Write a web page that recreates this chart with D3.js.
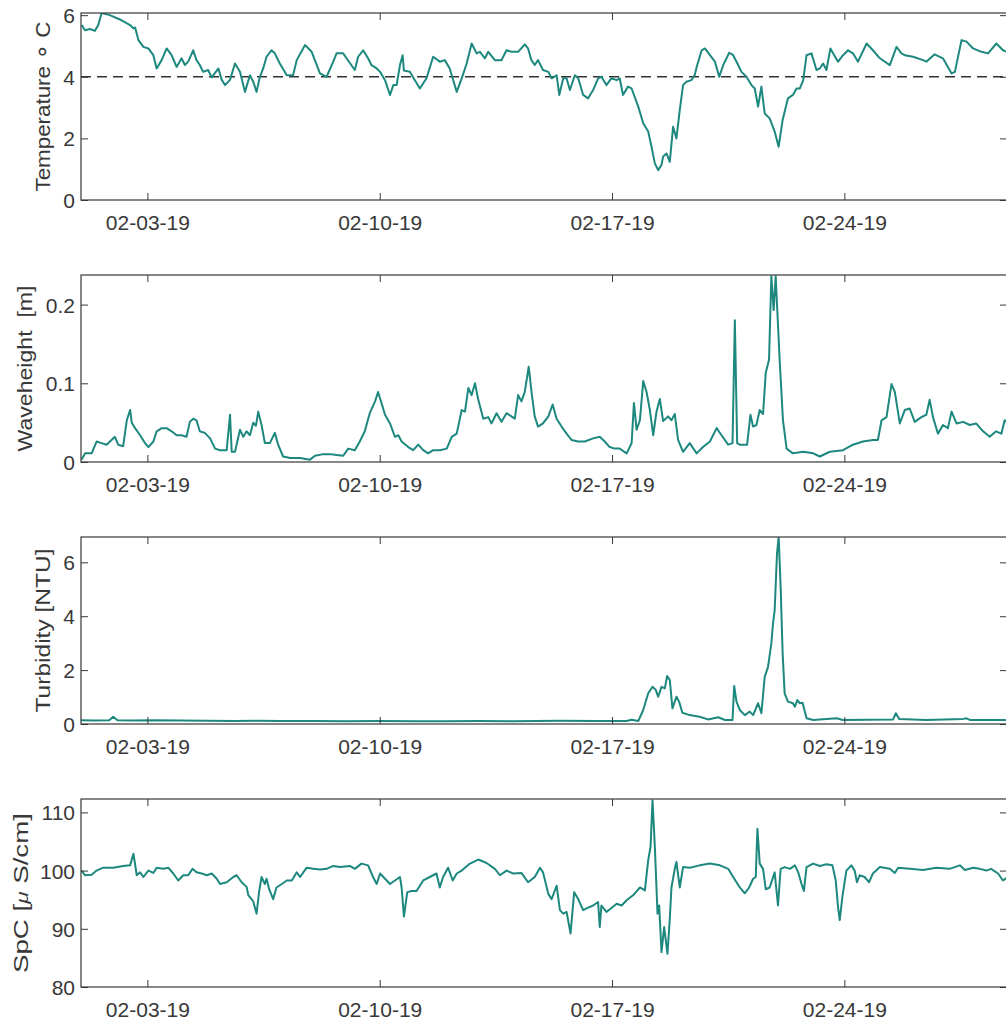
<!DOCTYPE html>
<html>
<head>
<meta charset="utf-8">
<script src="https://cdn.jsdelivr.net/npm/d3@7"></script>
<style>
  body { margin: 0; background: #fff; }
  text { font-family: "Liberation Sans", Arial, Helvetica, sans-serif; }
</style>
</head>
<body>
<svg id="chart" width="1006" height="1021"></svg>
<script>
// ---- time frame -------------------------------------------------------
const startDate = new Date(2019, 1, 1);      // first sample, Feb 1 2019
const endDay = 27.9;                          // record length in days
const dateTickLabels = ["02-03-19", "02-10-19", "02-17-19", "02-24-19"];

// ---- series: [days since start, value] --------------------------------
const temperature = [
  [0.02,5.68],[0.12,5.51],[0.27,5.55],[0.42,5.49],[0.52,5.68],[0.62,6.07],[0.87,6.00],[1.17,5.86],
  [1.48,5.68],[1.58,5.57],[1.63,5.60],[1.73,5.19],[1.88,4.97],[2.03,4.92],[2.18,4.70],[2.28,4.27],
  [2.43,4.54],[2.58,4.92],[2.73,4.70],[2.88,4.32],[3.03,4.60],[3.13,4.38],[3.23,4.49],[3.38,4.86],
  [3.48,4.54],[3.58,4.38],[3.68,4.16],[3.83,4.22],[3.94,3.98],[4.14,4.27],[4.24,3.90],[4.34,3.73],
  [4.49,3.90],[4.64,4.43],[4.79,4.16],[4.94,3.51],[5.09,4.05],[5.19,3.84],[5.29,3.51],[5.39,4.00],
  [5.49,4.27],[5.59,4.65],[5.74,4.86],[5.84,4.76],[5.99,4.43],[6.20,4.05],[6.39,4.05],[6.50,4.54],
  [6.75,5.03],[6.95,4.81],[7.20,4.11],[7.40,4.00],[7.60,4.49],[7.70,4.76],[7.90,4.76],[8.00,4.60],
  [8.25,4.22],[8.35,4.65],[8.50,4.86],[8.65,4.60],[8.75,4.38],[8.91,4.27],[9.01,4.16],[9.16,3.89],
  [9.31,3.41],[9.41,3.73],[9.51,3.73],[9.61,4.38],[9.69,4.70],[9.73,4.20],[9.91,4.16],[10.06,3.89],
  [10.21,3.62],[10.41,3.95],[10.61,4.65],[10.81,4.49],[10.96,4.54],[11.11,4.27],[11.32,3.51],[11.47,3.95],
  [11.62,4.43],[11.77,5.08],[11.92,4.76],[12.02,4.81],[12.17,4.60],[12.27,4.81],[12.47,4.54],[12.67,4.54],
  [12.82,4.86],[12.97,4.81],[13.17,4.81],[13.37,5.05],[13.47,4.92],[13.57,4.54],[13.67,4.38],[13.77,4.54],
  [13.92,4.22],[14.08,4.16],[14.18,3.95],[14.33,4.05],[14.41,3.41],[14.53,3.95],[14.63,3.95],[14.73,3.57],
  [14.88,4.05],[14.98,3.95],[15.13,3.41],[15.28,3.30],[15.43,3.57],[15.58,3.95],[15.68,4.00],[15.83,3.73],
  [15.98,3.95],[16.14,3.89],[16.23,3.95],[16.33,3.41],[16.48,3.68],[16.59,3.62],[16.79,3.03],[16.94,2.49],
  [17.09,2.22],[17.19,1.73],[17.29,1.19],[17.39,0.97],[17.49,1.14],[17.54,1.41],[17.64,1.51],[17.74,1.24],
  [17.84,2.38],[17.94,2.00],[18.04,2.92],[18.14,3.73],[18.24,3.84],[18.39,3.89],[18.49,4.05],[18.55,4.32],
  [18.70,4.86],[18.80,4.92],[18.95,4.70],[19.10,4.49],[19.23,4.00],[19.35,4.38],[19.53,4.78],[19.65,4.70],
  [19.80,4.38],[19.90,4.16],[20.05,4.00],[20.20,3.73],[20.30,3.62],[20.40,3.03],[20.50,3.68],[20.60,2.81],
  [20.75,2.65],[20.90,2.22],[21.02,1.73],[21.14,2.60],[21.30,3.30],[21.45,3.41],[21.56,3.62],[21.66,3.62],
  [21.76,3.89],[21.86,4.70],[22.01,4.76],[22.16,4.22],[22.26,4.27],[22.36,4.43],[22.46,4.22],[22.58,4.92],
  [22.66,4.76],[22.81,4.49],[22.96,4.70],[23.11,4.86],[23.26,4.76],[23.41,4.49],[23.67,5.08],[23.86,4.86],
  [24.07,4.60],[24.37,4.38],[24.57,4.97],[24.72,4.76],[24.82,4.70],[25.07,4.65],[25.37,4.54],[25.47,4.49],
  [25.72,4.73],[25.97,4.60],[26.23,4.11],[26.33,4.16],[26.53,5.19],[26.68,5.14],[26.88,4.92],[27.13,4.81],
  [27.33,4.76],[27.58,5.08],[27.78,4.86],[27.92,4.80]
];
const temperatureThreshold = 4;

const waveHeight = [
  [0.02,0.003],[0.12,0.011],[0.32,0.011],[0.47,0.026],[0.62,0.024],[0.77,0.022],[0.92,0.028],[1.02,0.032],
  [1.12,0.022],[1.27,0.020],[1.38,0.053],[1.48,0.066],[1.53,0.050],[1.63,0.043],[1.78,0.034],[1.93,0.024],
  [2.03,0.019],[2.18,0.026],[2.28,0.039],[2.43,0.043],[2.58,0.043],[2.73,0.039],[2.88,0.034],[3.03,0.034],
  [3.18,0.032],[3.28,0.051],[3.38,0.055],[3.48,0.053],[3.58,0.039],[3.73,0.037],[3.89,0.030],[4.04,0.017],
  [4.19,0.015],[4.39,0.015],[4.49,0.060],[4.54,0.013],[4.64,0.013],[4.79,0.041],[4.89,0.032],[4.99,0.039],
  [5.09,0.034],[5.19,0.050],[5.27,0.046],[5.34,0.064],[5.44,0.047],[5.54,0.024],[5.69,0.024],[5.84,0.037],
  [5.94,0.022],[6.09,0.007],[6.30,0.005],[6.60,0.005],[6.90,0.003],[7.05,0.008],[7.30,0.010],[7.50,0.010],
  [7.70,0.009],[7.90,0.008],[8.05,0.017],[8.25,0.015],[8.40,0.026],[8.55,0.039],[8.70,0.062],[8.86,0.077],
  [8.95,0.089],[9.06,0.074],[9.16,0.060],[9.31,0.049],[9.46,0.032],[9.56,0.034],[9.66,0.026],[9.86,0.019],
  [10.01,0.015],[10.16,0.022],[10.31,0.015],[10.46,0.011],[10.61,0.015],[10.81,0.015],[11.02,0.017],[11.17,0.032],
  [11.32,0.036],[11.47,0.066],[11.57,0.064],[11.67,0.094],[11.77,0.085],[11.87,0.100],[11.97,0.079],[12.12,0.055],
  [12.27,0.057],[12.37,0.049],[12.52,0.062],[12.67,0.051],[12.82,0.062],[12.97,0.058],[13.07,0.055],[13.17,0.085],
  [13.27,0.077],[13.37,0.089],[13.49,0.121],[13.58,0.087],[13.67,0.058],[13.77,0.045],[13.92,0.049],[14.08,0.058],
  [14.21,0.073],[14.33,0.055],[14.48,0.045],[14.63,0.036],[14.78,0.028],[14.98,0.026],[15.18,0.026],[15.43,0.030],
  [15.63,0.032],[15.78,0.026],[15.93,0.019],[16.08,0.017],[16.23,0.017],[16.44,0.011],[16.59,0.024],[16.66,0.075],
  [16.74,0.041],[16.84,0.053],[16.94,0.103],[17.04,0.089],[17.14,0.066],[17.24,0.034],[17.34,0.064],[17.44,0.080],
  [17.54,0.052],[17.69,0.058],[17.79,0.053],[17.89,0.061],[17.99,0.028],[18.14,0.013],[18.34,0.024],[18.55,0.011],
  [18.74,0.019],[18.95,0.026],[19.15,0.043],[19.30,0.034],[19.50,0.022],[19.63,0.024],[19.70,0.180],[19.77,0.024],
  [19.85,0.022],[20.07,0.022],[20.17,0.060],[20.25,0.045],[20.35,0.047],[20.45,0.066],[20.55,0.061],[20.63,0.113],
  [20.73,0.130],[20.80,0.236],[20.87,0.193],[20.93,0.236],[21.05,0.130],[21.15,0.053],[21.26,0.017],[21.45,0.011],
  [21.76,0.013],[22.06,0.011],[22.26,0.007],[22.56,0.013],[22.96,0.015],[23.26,0.022],[23.56,0.026],[23.86,0.028],
  [24.01,0.028],[24.12,0.053],[24.27,0.057],[24.42,0.099],[24.52,0.089],[24.67,0.049],[24.82,0.066],[24.97,0.068],
  [25.12,0.051],[25.32,0.057],[25.47,0.060],[25.57,0.079],[25.67,0.057],[25.82,0.036],[25.97,0.047],[26.12,0.043],
  [26.23,0.064],[26.38,0.049],[26.58,0.051],[26.78,0.047],[26.97,0.049],[27.18,0.039],[27.38,0.032],[27.57,0.039],
  [27.73,0.036],[27.83,0.053],[27.92,0.050]
];

const turbidity = [
  [0.00,0.14],[0.40,0.13],[0.85,0.14],[0.97,0.27],[1.10,0.14],[1.60,0.13],[2.20,0.14],[3.00,0.13],
  [3.80,0.12],[4.60,0.11],[5.30,0.12],[6.00,0.11],[7.00,0.11],[8.00,0.10],[9.00,0.11],[10.00,0.10],
  [11.00,0.10],[12.00,0.11],[13.00,0.10],[14.43,0.12],[15.50,0.11],[16.44,0.11],[16.59,0.16],[16.79,0.11],
  [16.94,0.52],[17.09,1.14],[17.22,1.38],[17.32,1.26],[17.39,1.01],[17.49,1.38],[17.59,1.32],[17.66,1.78],
  [17.74,1.63],[17.82,0.58],[17.94,1.01],[18.02,0.83],[18.12,0.42],[18.34,0.33],[18.64,0.27],[18.89,0.17],
  [19.20,0.25],[19.40,0.15],[19.63,0.15],[19.68,1.41],[19.75,0.83],[19.85,0.52],[20.00,0.33],[20.15,0.46],
  [20.25,0.33],[20.40,0.77],[20.50,0.40],[20.60,1.75],[20.70,2.12],[20.80,2.99],[20.85,3.73],[20.90,4.22],
  [20.97,6.32],[21.02,6.94],[21.08,5.09],[21.14,2.62],[21.20,1.14],[21.30,0.83],[21.45,0.77],[21.51,0.64],
  [21.58,0.89],[21.66,0.77],[21.74,0.79],[21.86,0.21],[22.06,0.15],[22.76,0.21],[22.96,0.15],[24.47,0.17],
  [24.55,0.40],[24.65,0.19],[25.47,0.15],[26.58,0.19],[26.68,0.21],[26.78,0.15],[27.92,0.15]
];

const conductivity = [
  [0.02,100.0],[0.12,99.2],[0.32,99.3],[0.47,100.0],[0.67,100.5],[0.97,100.5],[1.27,100.8],[1.48,100.9],
  [1.58,102.9],[1.68,99.2],[1.78,99.7],[1.88,98.9],[2.03,100.0],[2.18,99.6],[2.28,100.5],[2.48,100.3],
  [2.63,100.5],[2.78,99.5],[2.93,98.3],[3.08,99.2],[3.23,99.2],[3.36,100.3],[3.48,99.7],[3.64,99.5],
  [3.79,99.2],[3.94,99.5],[4.09,98.6],[4.19,97.7],[4.39,98.0],[4.59,98.9],[4.69,99.2],[4.84,98.0],
  [4.99,97.2],[5.04,95.8],[5.19,94.7],[5.29,92.6],[5.37,96.5],[5.44,98.9],[5.54,97.7],[5.59,98.6],
  [5.67,96.8],[5.79,95.1],[5.89,97.1],[6.05,97.7],[6.20,98.3],[6.35,98.3],[6.50,99.7],[6.60,98.9],
  [6.80,100.5],[7.00,100.3],[7.20,100.2],[7.40,100.3],[7.60,100.8],[7.80,100.6],[8.10,100.8],[8.25,100.3],
  [8.45,101.2],[8.65,100.9],[8.80,98.9],[8.91,97.7],[9.01,99.5],[9.16,98.6],[9.31,97.7],[9.46,98.3],
  [9.61,98.9],[9.66,97.1],[9.73,92.1],[9.83,96.3],[9.96,96.5],[10.11,96.5],[10.31,98.3],[10.51,98.9],
  [10.71,99.5],[10.81,97.1],[10.91,98.9],[11.06,100.5],[11.20,98.3],[11.32,99.5],[11.47,100.0],[11.72,101.2],
  [11.97,101.9],[12.22,101.3],[12.47,100.3],[12.62,99.2],[12.82,100.0],[13.02,99.5],[13.27,99.6],[13.47,98.0],
  [13.67,98.9],[13.83,100.5],[13.92,99.7],[14.08,96.0],[14.18,95.1],[14.33,97.4],[14.43,93.2],[14.53,92.6],
  [14.63,92.9],[14.75,89.2],[14.86,96.3],[14.98,95.1],[15.13,93.2],[15.23,93.5],[15.43,94.0],[15.58,94.6],
  [15.63,90.3],[15.68,94.0],[15.83,92.9],[16.03,93.8],[16.14,94.3],[16.29,94.0],[16.44,94.9],[16.64,95.8],
  [16.84,97.1],[16.99,96.6],[17.09,101.8],[17.16,104.1],[17.22,112.1],[17.29,104.1],[17.37,92.6],[17.42,94.0],
  [17.49,86.0],[17.57,90.3],[17.67,85.7],[17.74,91.7],[17.79,97.1],[17.89,100.3],[17.94,101.5],[18.04,97.1],
  [18.14,100.6],[18.34,100.5],[18.64,100.9],[18.95,101.2],[19.25,100.9],[19.50,100.3],[19.65,98.9],[19.85,97.1],
  [20.00,96.1],[20.13,97.1],[20.25,98.6],[20.33,98.9],[20.38,107.2],[20.45,101.2],[20.55,100.3],[20.63,96.8],
  [20.75,97.1],[20.90,99.7],[21.00,94.0],[21.08,100.3],[21.20,100.6],[21.36,100.3],[21.51,100.9],[21.61,99.7],
  [21.71,97.7],[21.78,96.5],[21.86,100.6],[22.06,101.2],[22.26,100.8],[22.46,101.1],[22.64,100.9],[22.74,98.3],
  [22.81,93.7],[22.86,91.5],[22.94,95.5],[23.06,100.0],[23.21,100.9],[23.31,100.0],[23.38,98.0],[23.46,99.2],
  [23.61,98.9],[23.74,98.0],[23.86,99.5],[24.07,100.6],[24.37,100.3],[24.52,99.6],[24.62,100.5],[24.97,100.3],
  [25.37,100.1],[25.77,100.5],[26.17,100.3],[26.48,100.9],[26.63,100.1],[26.88,100.5],[27.08,100.3],[27.28,100.0],
  [27.42,100.3],[27.63,99.5],[27.78,98.3],[27.92,98.9]
];

// ---- per-panel axis settings ------------------------------------------
const tempTicks = [0, 2, 4, 6];
const waveTicks = [0, 0.1, 0.2];
const turbTicks = [0, 2, 4, 6];
const condTicks = [80, 90, 100, 110];

const panels = [
  { data: temperature,  top: 13,  bottom: 200, domain: [0, 6.07],   ticks: tempTicks, label: "temp", labelX: 50, labelLen: 170 },
  { data: waveHeight,   top: 275, bottom: 462, domain: [0, 0.2376], ticks: waveTicks, label: "wave", labelX: 32, labelLen: 166 },
  { data: turbidity,    top: 537, bottom: 724, domain: [0, 6.94],   ticks: turbTicks, label: "turb", labelX: 50, labelLen: 164 },
  { data: conductivity, top: 799, bottom: 987, domain: [80, 112.3], ticks: condTicks, label: "spc",  labelX: 28, labelLen: 160 }
];

// ---- drawing ----------------------------------------------------------
const svg = d3.select("#chart");
const left = 81, right = 1007;
const lineColor = "#1d887e";
const inkColor = "#383838";
const fontSize = 21;
const dayMs = 864e5;
const toDate = d => new Date(+startDate + d * dayMs);

const x = d3.scaleTime()
  .domain([startDate, toDate(endDay)])
  .range([left, right]);

const parseTick = d3.timeParse("%m-%d-%y");
const tickDates = dateTickLabels.map(parseTick);

panels.forEach((p, i) => {
  const y = d3.scaleLinear().domain(p.domain).range([p.bottom, p.top]);
  const g = svg.append("g");

  // clip region for the trace
  const clipId = "clip" + i;
  svg.append("clipPath").attr("id", clipId)
    .append("rect")
    .attr("x", left).attr("y", p.top)
    .attr("width", right - left).attr("height", p.bottom - p.top);

  // reference line for temperature
  if (p.label === "temp") {
    g.append("line")
      .attr("x1", left).attr("x2", right)
      .attr("y1", y(temperatureThreshold)).attr("y2", y(temperatureThreshold))
      .attr("stroke", "#333").attr("stroke-width", 1.6)
      .attr("stroke-dasharray", "10,6")
      .attr("clip-path", `url(#${clipId})`);
  }

  // trace
  const line = d3.line()
    .x(d => x(toDate(d[0])))
    .y(d => y(d[1]));
  g.append("path")
    .datum(p.data)
    .attr("d", line)
    .attr("fill", "none")
    .attr("stroke", lineColor)
    .attr("stroke-width", 2)
    .attr("stroke-linejoin", "round")
    .attr("clip-path", `url(#${clipId})`);

  // bottom axis with date labels
  const bottomAxis = d3.axisBottom(x)
    .tickValues(tickDates)
    .tickFormat(d3.timeFormat("%m-%d-%y"))
    .tickSizeInner(-7).tickSizeOuter(0).tickPadding(15);
  const gb = g.append("g").attr("transform", `translate(0,${p.bottom})`).call(bottomAxis);

  // top axis (ticks only)
  const topAxis = d3.axisTop(x).tickValues(tickDates).tickFormat("")
    .tickSizeInner(-7).tickSizeOuter(0);
  const gt = g.append("g").attr("transform", `translate(0,${p.top})`).call(topAxis);

  // left axis with labels
  const leftAxis = d3.axisLeft(y).tickValues(p.ticks)
    .tickFormat(d3.format("~g"))
    .tickSizeInner(-7).tickSizeOuter(0).tickPadding(6);
  const gl = g.append("g").attr("transform", `translate(${left},0)`).call(leftAxis);

  // right axis (ticks only)
  const rightAxis = d3.axisRight(y).tickValues(p.ticks).tickFormat("")
    .tickSizeInner(-7).tickSizeOuter(0);
  const gr = g.append("g").attr("transform", `translate(${right},0)`).call(rightAxis);

  [gb, gt, gl, gr].forEach(a => {
    a.select(".domain").remove();
    a.selectAll(".tick line").attr("stroke", inkColor).attr("stroke-width", 1);
    a.selectAll(".tick text")
      .attr("fill", inkColor)
      .style("font-size", fontSize + "px")
      .style("font-family", '"Liberation Sans", Arial, sans-serif');
  });
  gl.selectAll(".tick text").attr("dy", "0.36em");

  // frame
  g.append("rect")
    .attr("x", left).attr("y", p.top)
    .attr("width", right - left).attr("height", p.bottom - p.top)
    .attr("fill", "none").attr("stroke", inkColor).attr("stroke-width", 1.2);

  // y label
  const cy = (p.top + p.bottom) / 2;
  const lab = g.append("text")
    .attr("transform", `translate(${p.labelX},${cy}) rotate(-90)`)
    .attr("text-anchor", "middle")
    .attr("fill", inkColor)
    .attr("textLength", p.labelLen)
    .attr("lengthAdjust", "spacingAndGlyphs")
    .style("font-size", fontSize + "px")
    .style("white-space", "pre");
  if (p.label === "temp") {
    lab.append("tspan").text("Temperature ");
    lab.append("tspan").text("\u2218").style("font-family", '"DejaVu Sans", sans-serif').style("font-size", "24px");
    lab.append("tspan").text(" C");
  } else if (p.label === "wave") {
    lab.text("Waveheight  [m]");
  } else if (p.label === "turb") {
    lab.text("Turbidity [NTU]");
  } else {
    lab.append("tspan").text("SpC [");
    lab.append("tspan").text("\u03BC").style("font-style", "italic").style("font-size", "17px");
    lab.append("tspan").text(" S/cm]");
  }
});
</script>
</body>
</html>
